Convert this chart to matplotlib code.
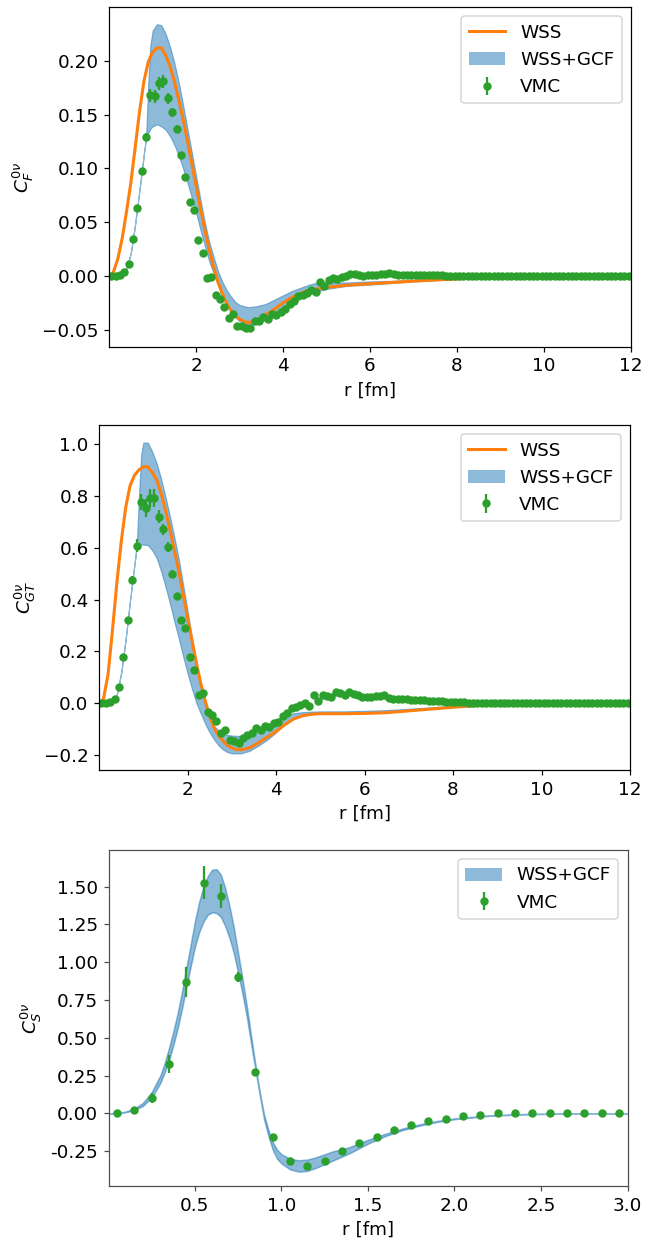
import numpy as np
import matplotlib
matplotlib.use("Agg")
import matplotlib.pyplot as plt
from matplotlib.patches import Patch
import matplotlib.ticker as mticker

# ---------------- Panel 1 : C_F ----------------
r_vmc = [0.05, 0.15, 0.25, 0.35, 0.45, 0.55, 0.65, 0.75, 0.85, 0.95,
         1.05, 1.15, 1.25, 1.35, 1.45, 1.55, 1.65, 1.75, 1.85, 1.95,
         2.05, 2.15, 2.25, 2.35, 2.45, 2.55, 2.65, 2.75, 2.85, 2.95,
         3.05, 3.15, 3.25, 3.35, 3.45, 3.55, 3.65, 3.75, 3.85, 3.95,
         4.05, 4.15, 4.25, 4.35, 4.45, 4.55, 4.65, 4.75, 4.85, 4.95,
         5.05, 5.15, 5.25, 5.35, 5.45, 5.55, 5.65, 5.75, 5.85, 5.95,
         6.05, 6.15, 6.25, 6.35, 6.45, 6.55, 6.65, 6.75, 6.85, 6.95,
         7.05, 7.15, 7.25, 7.35, 7.45, 7.55, 7.65, 7.75, 7.85, 7.95,
         8.05, 8.15, 8.25, 8.35, 8.45, 8.55, 8.65, 8.75, 8.85, 8.95,
         9.05, 9.15, 9.25, 9.35, 9.45, 9.55, 9.65, 9.75, 9.85, 9.95,
         10.05, 10.15, 10.25, 10.35, 10.45, 10.55, 10.65, 10.75, 10.85, 10.95,
         11.05, 11.15, 11.25, 11.35, 11.45, 11.55, 11.65, 11.75, 11.85, 11.95]

vmc_F = [0.0, 0.0, 0.001, 0.004, 0.0114, 0.034, 0.0636, 0.0977, 0.129, 0.168,
         0.167, 0.179, 0.181, 0.165, 0.152, 0.137, 0.1126, 0.0918, 0.0686, 0.0614,
         0.0335, 0.0211, -0.002, -0.0006, -0.0177, -0.0214, -0.0285, -0.0388, -0.0356, -0.0465,
         -0.0465, -0.0487, -0.048, -0.0419, -0.0419, -0.0378, -0.040, -0.0353, -0.0363, -0.0332,
         -0.031, -0.0257, -0.0233, -0.019, -0.0174, -0.016, -0.0133, -0.015, -0.0056, -0.0097,
         -0.0037, -0.002, -0.003, -0.0006, 0.0, 0.0015, 0.0019, 0.001, 0.0, 0.0005,
         0.0009, 0.0009, 0.0019, 0.0019, 0.003, 0.0015, 0.0012, 0.001, 0.001, 0.0009,
         0.0012, 0.0012, 0.001, 0.0008, 0.0008, 0.0006, 0.0005, 0.0004, 0.0003, 0.0003,
         0.0002, 0.0002, 0.0002, 0.0001, 0.0001, 0.0001, 0.0001, 0.0, 0.0, 0.0,
         0.0, 0.0, 0.0, 0.0, 0.0, 0.0, 0.0, 0.0, 0.0, 0.0,
         0.0, 0.0, 0.0, 0.0, 0.0, 0.0, 0.0, 0.0, 0.0, 0.0,
         0.0, 0.0, 0.0, 0.0, 0.0, 0.0, 0.0, 0.0, 0.0, 0.0]

err_F = [0.0005, 0.0005, 0.0005, 0.0008, 0.001, 0.0015, 0.002, 0.003, 0.004, 0.006,
         0.006, 0.006, 0.006, 0.005, 0.004, 0.003, 0.003, 0.002, 0.002, 0.002,
         0.0015, 0.0015, 0.0015, 0.0015, 0.001, 0.001, 0.001, 0.001, 0.001, 0.001,
         0.001, 0.001, 0.001, 0.001, 0.001, 0.001, 0.001, 0.001, 0.001, 0.001,
         0.001, 0.001, 0.001, 0.001, 0.001, 0.001, 0.001, 0.001, 0.001, 0.001,
         0.0005, 0.0005, 0.0005, 0.0005, 0.0005, 0.0005, 0.0005, 0.0005, 0.0005, 0.0005,
         0.0005, 0.0005, 0.0005, 0.0005, 0.0005, 0.0005, 0.0005, 0.0005, 0.0005, 0.0005,
         0.0003, 0.0003, 0.0003, 0.0003, 0.0003, 0.0003, 0.0003, 0.0003, 0.0003, 0.0003,
         0.0002, 0.0002, 0.0002, 0.0002, 0.0002, 0.0002, 0.0002, 0.0002, 0.0002, 0.0002,
         0.0001, 0.0001, 0.0001, 0.0001, 0.0001, 0.0001, 0.0001, 0.0001, 0.0001, 0.0001,
         0.0001, 0.0001, 0.0001, 0.0001, 0.0001, 0.0001, 0.0001, 0.0001, 0.0001, 0.0001,
         0.0001, 0.0001, 0.0001, 0.0001, 0.0001, 0.0001, 0.0001, 0.0001, 0.0001, 0.0001]

r_wss = [0.05, 0.1, 0.2, 0.3, 0.4, 0.5, 0.6, 0.7, 0.8, 0.9,
         1.0, 1.1, 1.2, 1.3, 1.4, 1.5, 1.6, 1.7, 1.8, 1.9,
         2.0, 2.1, 2.2, 2.3, 2.4, 2.5, 2.6, 2.7, 2.8, 2.9,
         3.0, 3.1, 3.2, 3.4, 3.6, 3.8, 4.0, 4.2, 4.4, 4.6,
         4.8, 5.0, 5.5, 6.0, 6.5, 7.0, 7.5, 8.0, 8.5, 9.0,
         9.5, 10.0, 11.0, 12.0]
wss_F = [0.0, 0.004, 0.016, 0.035, 0.06, 0.087, 0.12, 0.153, 0.181, 0.199,
         0.208, 0.212, 0.212, 0.205, 0.195, 0.181, 0.164, 0.146, 0.126, 0.105,
         0.084, 0.063, 0.043, 0.025, 0.009, -0.005, -0.016, -0.025, -0.032, -0.037,
         -0.040, -0.042, -0.0434, -0.041, -0.036, -0.031, -0.025, -0.020, -0.016, -0.013,
         -0.012, -0.0105, -0.0085, -0.0072, -0.006, -0.0048, -0.0037, -0.0027, -0.0017, -0.0009,
         -0.0003, 0.0, 0.0, 0.0]

r_band = [0.05, 0.1, 0.2, 0.3, 0.4, 0.5, 0.6, 0.7, 0.8, 0.85,
          0.9, 0.95, 1.0, 1.1, 1.2, 1.3, 1.4, 1.5, 1.6, 1.7,
          1.8, 1.9, 2.0, 2.1, 2.2, 2.3, 2.4, 2.5, 2.6, 2.7,
          2.8, 2.9, 3.0, 3.2, 3.4, 3.6, 3.8, 4.0, 4.2, 4.4,
          4.6, 4.8, 5.0, 5.5, 6.0, 6.5, 7.0, 7.5, 8.0, 8.5,
          9.0, 9.5, 10.0, 12.0]
lo_F = [0.0, 0.0002, 0.0007, 0.003, 0.007, 0.022, 0.049, 0.081, 0.114, 0.129,
        0.133, 0.137, 0.139, 0.141, 0.139, 0.136, 0.130, 0.122, 0.112, 0.100,
        0.087, 0.073, 0.059, 0.043, 0.028, 0.014, 0.003, -0.008, -0.018, -0.025,
        -0.032, -0.038, -0.042, -0.046, -0.044, -0.040, -0.035, -0.029, -0.024, -0.019,
        -0.016, -0.014, -0.012, -0.009, -0.008, -0.0065, -0.005, -0.004, -0.003, -0.002,
        -0.001, -0.0004, 0.0, 0.0]
hi_F = [0.0, 0.0002, 0.0007, 0.003, 0.007, 0.022, 0.049, 0.081, 0.114, 0.129,
        0.18, 0.215, 0.228, 0.234, 0.233, 0.225, 0.213, 0.198, 0.180, 0.159,
        0.137, 0.115, 0.093, 0.071, 0.050, 0.032, 0.018, 0.005, -0.005, -0.013,
        -0.019, -0.024, -0.027, -0.029, -0.028, -0.026, -0.022, -0.018, -0.014, -0.011,
        -0.008, -0.006, -0.006, -0.006, -0.005, -0.0045, -0.0035, -0.0027, -0.002, -0.0012,
        -0.0005, -0.0001, 0.0, 0.0]

# ---------------- Panel 2 : C_GT ----------------
vmc_GT = [0.0, 0.001, 0.006, 0.015, 0.064, 0.18, 0.321, 0.474, 0.607, 0.776,
          0.752, 0.791, 0.791, 0.72, 0.671, 0.602, 0.498, 0.415, 0.321, 0.289,
          0.18, 0.128, 0.032, 0.041, -0.032, -0.045, -0.068, -0.113, -0.103, -0.142,
          -0.145, -0.154, -0.135, -0.122, -0.116, -0.096, -0.103, -0.087, -0.09, -0.077,
          -0.071, -0.049, -0.036, -0.019, -0.013, -0.006, 0.0, -0.01, 0.032, 0.01,
          0.032, 0.028, 0.026, 0.045, 0.039, 0.032, 0.045, 0.035, 0.032, 0.025,
          0.024, 0.026, 0.028, 0.028, 0.032, 0.02, 0.018, 0.016, 0.015, 0.015,
          0.014, 0.013, 0.012, 0.011, 0.01, 0.009, 0.008, 0.008, 0.007, 0.006,
          0.005, 0.004, 0.004, 0.003, 0.002, 0.002, 0.001, 0.001, 0.001, 0.0005,
          0.0005, 0.0, 0.0, 0.0, 0.0, 0.0, 0.0, 0.0, 0.0, 0.0,
          0.0, 0.0, 0.0, 0.0, 0.0, 0.0, 0.0, 0.0, 0.0, 0.0,
          0.0, 0.0, 0.0, 0.0, 0.0, 0.0, 0.0, 0.0, 0.0, 0.0]

err_GT = [0.002, 0.002, 0.002, 0.003, 0.005, 0.008, 0.01, 0.015, 0.025, 0.03,
          0.035, 0.035, 0.035, 0.025, 0.022, 0.02, 0.015, 0.012, 0.01, 0.008,
          0.007, 0.006, 0.006, 0.005, 0.005, 0.005, 0.005, 0.005, 0.005, 0.005,
          0.005, 0.005, 0.005, 0.005, 0.005, 0.005, 0.005, 0.005, 0.005, 0.005,
          0.004, 0.004, 0.004, 0.004, 0.004, 0.004, 0.004, 0.004, 0.004, 0.004,
          0.003, 0.003, 0.003, 0.003, 0.003, 0.003, 0.003, 0.003, 0.003, 0.003,
          0.002, 0.002, 0.002, 0.002, 0.002, 0.002, 0.002, 0.002, 0.002, 0.002,
          0.001, 0.001, 0.001, 0.001, 0.001, 0.001, 0.001, 0.001, 0.001, 0.001,
          0.001, 0.001, 0.001, 0.001, 0.001, 0.001, 0.001, 0.001, 0.001, 0.001,
          0.0005, 0.0005, 0.0005, 0.0005, 0.0005, 0.0005, 0.0005, 0.0005, 0.0005, 0.0005,
          0.0005, 0.0005, 0.0005, 0.0005, 0.0005, 0.0005, 0.0005, 0.0005, 0.0005, 0.0005,
          0.0005, 0.0005, 0.0005, 0.0005, 0.0005, 0.0005, 0.0005, 0.0005, 0.0005, 0.0005]

wss_GT = [0.0, 0.02, 0.11, 0.28, 0.465, 0.625, 0.755, 0.84, 0.88, 0.90,
          0.912, 0.912, 0.89, 0.862, 0.81, 0.745, 0.67, 0.59, 0.51, 0.42,
          0.33, 0.24, 0.154, 0.075, 0.008, -0.05, -0.095, -0.125, -0.145, -0.162,
          -0.172, -0.178, -0.179, -0.172, -0.152, -0.13, -0.108, -0.082, -0.06, -0.048,
          -0.042, -0.040, -0.040, -0.039, -0.036, -0.029, -0.022, -0.015, -0.009, -0.004,
          -0.001, 0.0, 0.0, 0.0]

lo_GT = [0.0, 0.0, 0.001, 0.008, 0.035, 0.12, 0.25, 0.40, 0.54, 0.607,
         0.61, 0.612, 0.612, 0.61, 0.59, 0.56, 0.51, 0.45, 0.385, 0.315,
         0.25, 0.18, 0.115, 0.055, 0.0, -0.04, -0.08, -0.113, -0.14, -0.162,
         -0.178, -0.188, -0.193, -0.193, -0.183, -0.163, -0.14, -0.112, -0.078, -0.056,
         -0.045, -0.041, -0.040, -0.039, -0.037, -0.034, -0.028, -0.021, -0.015, -0.009,
         -0.004, -0.001, 0.0, 0.0]
hi_GT = [0.0, 0.0, 0.001, 0.008, 0.035, 0.12, 0.25, 0.40, 0.54, 0.607,
         0.80, 0.96, 1.005, 1.005, 0.97, 0.925, 0.865, 0.795, 0.72, 0.64,
         0.555, 0.455, 0.355, 0.25, 0.15, 0.065, -0.01, -0.055, -0.088, -0.105,
         -0.117, -0.122, -0.124, -0.126, -0.12, -0.105, -0.085, -0.065, -0.047, -0.038,
         -0.034, -0.032, -0.031, -0.031, -0.029, -0.026, -0.021, -0.015, -0.010, -0.006,
         -0.002, 0.0, 0.0, 0.0]

# ---------------- Panel 3 : C_S ----------------
r_vmc_S = [0.05, 0.15, 0.25, 0.35, 0.45, 0.55, 0.65, 0.75, 0.85, 0.95,
           1.05, 1.15, 1.25, 1.35, 1.45, 1.55, 1.65, 1.75, 1.85, 1.95,
           2.05, 2.15, 2.25, 2.35, 2.45, 2.55, 2.65, 2.75, 2.85, 2.95]
vmc_S = [0.0, 0.02, 0.103, 0.328, 0.869, 1.526, 1.438, 0.902, 0.275, -0.156,
         -0.317, -0.35, -0.315, -0.248, -0.198, -0.154, -0.11, -0.077, -0.051, -0.035,
         -0.018, -0.009, 0.0, 0.0, 0.003, 0.003, 0.003, 0.003, 0.003, 0.003]
err_S = [0.003, 0.005, 0.035, 0.06, 0.10, 0.11, 0.08, 0.035, 0.01, 0.005,
         0.005, 0.005, 0.005, 0.004, 0.004, 0.003, 0.003, 0.002, 0.002, 0.002,
         0.002, 0.001, 0.001, 0.001, 0.001, 0.001, 0.001, 0.001, 0.001, 0.001]

r_band_S = [0.0, 0.05, 0.1, 0.15, 0.2, 0.25, 0.3, 0.325, 0.35, 0.375,
            0.4, 0.425, 0.45, 0.475, 0.5, 0.525, 0.55, 0.575, 0.6, 0.625,
            0.65, 0.675, 0.7, 0.725, 0.75, 0.775, 0.8, 0.825, 0.85, 0.875,
            0.9, 0.925, 0.95, 0.975, 1.0, 1.05, 1.1, 1.15, 1.2, 1.25,
            1.3, 1.35, 1.4, 1.5, 1.6, 1.7, 1.8, 1.9, 2.0, 2.2,
            2.4, 2.6, 2.8, 3.0]
hi_S = [0.0, 0.003, 0.012, 0.032, 0.07, 0.14, 0.25, 0.33, 0.43, 0.54,
        0.66, 0.80, 0.96, 1.11, 1.27, 1.40, 1.50, 1.57, 1.612, 1.615,
        1.58, 1.49, 1.37, 1.23, 1.06, 0.89, 0.71, 0.51, 0.32, 0.14,
        -0.01, -0.11, -0.19, -0.24, -0.27, -0.30, -0.31, -0.305, -0.29, -0.27,
        -0.25, -0.238, -0.22, -0.175, -0.135, -0.10, -0.072, -0.05, -0.033, -0.013,
        -0.004, -0.001, 0.0, 0.0]
lo_S = [0.0, 0.0, 0.008, 0.022, 0.05, 0.105, 0.2, 0.27, 0.35, 0.45,
        0.56, 0.69, 0.83, 0.97, 1.10, 1.20, 1.27, 1.315, 1.33, 1.325,
        1.30, 1.24, 1.16, 1.06, 0.93, 0.79, 0.64, 0.46, 0.29, 0.12,
        -0.04, -0.15, -0.24, -0.30, -0.33, -0.37, -0.385, -0.38, -0.36, -0.335,
        -0.31, -0.285, -0.26, -0.2, -0.15, -0.11, -0.08, -0.056, -0.038, -0.016,
        -0.006, -0.002, -0.0005, 0.0]

labels = ["WSS", "WSS+GCF", "VMC"]

plt.rcParams["font.size"] = 12
DPI = 110
W, H = 657.0, 1239.0
fig = plt.figure(figsize=(W / DPI, H / DPI), dpi=DPI)


def add_ax(left, right, top, bottom):
    return fig.add_axes([left / W, 1 - bottom / H, (right - left) / W, (bottom - top) / H])


def draw(ax, rb, lo, hi, rv, v, e, rw=None, w=None, elw=0.8):
    ax.fill_between(rb, lo, hi, color="C0", alpha=0.5, linewidth=elw)
    handles = []
    if w is not None:
        ln, = ax.plot(rw, w, color="C1", lw=2.0)
        handles.append((ln, labels[0]))
    eb = ax.errorbar(rv, v, yerr=e, fmt="o", color="C2", ms=4.5, elinewidth=1.5)
    handles.append((Patch(facecolor="C0", alpha=0.5, edgecolor="none"), labels[1]))
    handles.append((eb, labels[2]))
    ax.legend([h for h, _ in handles], [l for _, l in handles], loc="upper right")
    ax.set_xlabel("r [fm]")


ax1 = add_ax(109.3, 630.7, 7.3, 346.7)
draw(ax1, r_band, lo_F, hi_F, r_vmc, vmc_F, err_F, r_wss, wss_F)
ax1.set_xlim(0.003, 12)
ax1.set_ylim(-0.0657, 0.2497)
ax1.set_xticks([2, 4, 6, 8, 10, 12])
ax1.set_yticks([-0.05, 0.0, 0.05, 0.10, 0.15, 0.20])
ax1.set_ylabel(r"$C_F^{0\nu}$")

ax2 = add_ax(99.3, 630.0, 425.0, 770.0)
draw(ax2, r_band, lo_GT, hi_GT, r_vmc, vmc_GT, err_GT, r_wss, wss_GT)
ax2.set_xlim(0.003, 12)
ax2.set_ylim(-0.257, 1.073)
ax2.set_xticks([2, 4, 6, 8, 10, 12])
ax2.set_yticks([-0.2, 0.0, 0.2, 0.4, 0.6, 0.8, 1.0])
ax2.set_ylabel(r"$C_{GT}^{0\nu}$")

ax3 = add_ax(108.7, 627.5, 850.0, 1186.0)
draw(ax3, r_band_S, lo_S, hi_S, r_vmc_S, vmc_S, err_S, elw=1.0)
ax3.set_xlim(0.002, 3.0)
ax3.set_ylim(-0.48, 1.742)
ax3.set_xticks([0.5, 1.0, 1.5, 2.0, 2.5, 3.0])
ax3.set_yticks([-0.25, 0.0, 0.25, 0.5, 0.75, 1.0, 1.25, 1.5])
ax3.yaxis.set_major_formatter(mticker.FormatStrFormatter("%.2f"))
ax3.xaxis.set_major_formatter(mticker.FormatStrFormatter("%.1f"))
ax3.set_ylabel(r"$C_S^{0\nu}$")
for s in ax3.spines.values():
    s.set_color("0.3")
ax3.tick_params(color="0.3")

fig.savefig("out.png", dpi=DPI)
